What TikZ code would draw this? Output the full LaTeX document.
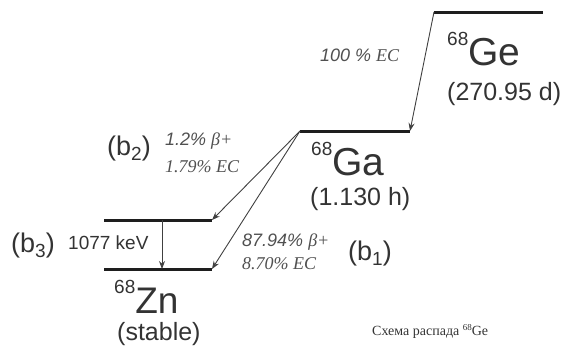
\documentclass[tikz,border=0pt]{standalone}
\usepackage{fontspec}
\setmainfont{Liberation Sans}
\newfontfamily\seriffont{Liberation Serif}
\usetikzlibrary{arrows.meta}
\definecolor{txt}{HTML}{333333}
\definecolor{lab}{HTML}{505050}
\definecolor{lvl}{HTML}{1E1E1E}
\definecolor{arr}{HTML}{404040}
\newcommand{\fs}[1]{\fontsize{#1}{#1}\selectfont}
\newcommand{\iso}[2]{{\fs{19}\raisebox{20pt}{#1}}#2}
\newcommand{\bsub}[1]{(b{\fs{19}\raisebox{-5pt}{#1}})}
\begin{document}
\begin{tikzpicture}[x=1pt,y=-1pt,
  level/.style={draw=lvl,line width=3pt},
  decay/.style={draw=arr,line width=0.9pt,-{Stealth[length=8pt,width=6pt]}},
  big/.style={anchor=base west,inner sep=0pt,text=txt,font=\fs{39}},
  half/.style={anchor=base west,inner sep=0pt,text=txt,font=\fs{25}},
  blab/.style={anchor=base west,inner sep=0pt,text=txt,font=\fs{27}},
  ilab/.style={anchor=base west,inner sep=0pt,text=lab,font=\fs{18}\itshape}]
\useasboundingbox (0,0) rectangle (570,351);
% level end points
\coordinate (geL) at (434,12);
\coordinate (geR) at (543,12);
\coordinate (gaL) at (300,131);
\coordinate (gaR) at (410,131);
\coordinate (znxL) at (104,220);
\coordinate (znxR) at (212,220);
\coordinate (zngL) at (104,269);
\coordinate (zngR) at (212,269);
\coordinate (gamTop) at (162,220);
\coordinate (gamBot) at (162,269);
% levels
\draw[level] (geL) -- (geR);
\draw[level] (gaL) -- (gaR);
\draw[level] (znxL) -- (znxR);
\draw[level] (zngL) -- (zngR);
% transitions
\draw[decay] (geL) -- (gaR);
\draw[decay] (gaL) -- (znxR);
\draw[decay] (gaL) -- (zngR);
\draw[decay] (gamTop) -- (gamBot);
% texts
\node[big] (tge) at (447,65) {\iso{68}{Ge}};
\node[half] (hge) at (447,100) {(270.95 d)};
\node[ilab] (lge) at (320,61) {100 \% {\seriffont EC}};
\node[big] (tga) at (311,175) {\iso{68}{Ga}};
\node[half] (hga) at (310,205) {(1.130 h)};
\node[blab] (b2) at (107,155) {\bsub{2}};
\node[ilab] (l2a) at (165,145) {1.2\% {\seriffont β+}};
\node[ilab] (l2b) at (165,172) {\seriffont 1.79\% EC};
\node[blab] (b3) at (11,252) {\bsub{3}};
\node[anchor=base west,inner sep=0pt,text=txt,font=\fs{19}] (kev) at (68,249) {1077 keV};
\node[ilab] (l1a) at (242,246) {87.94\% {\seriffont β+}};
\node[ilab] (l1b) at (242,269) {\seriffont 8.70\% EC};
\node[blab] (b1) at (348,260) {\bsub{1}};
\node[big,font=\fs{37}] (tzn) at (114,313) {\iso{68}{Zn}};
\node[half] (hzn) at (117,340) {(stable)};
\node[anchor=base west,inner sep=0pt,text=txt,font=\seriffont\fs{14}] (cap) at (372,335) {Схема распада {\fs{9}\raisebox{5pt}{68}}Ge};
\end{tikzpicture}
\end{document}
